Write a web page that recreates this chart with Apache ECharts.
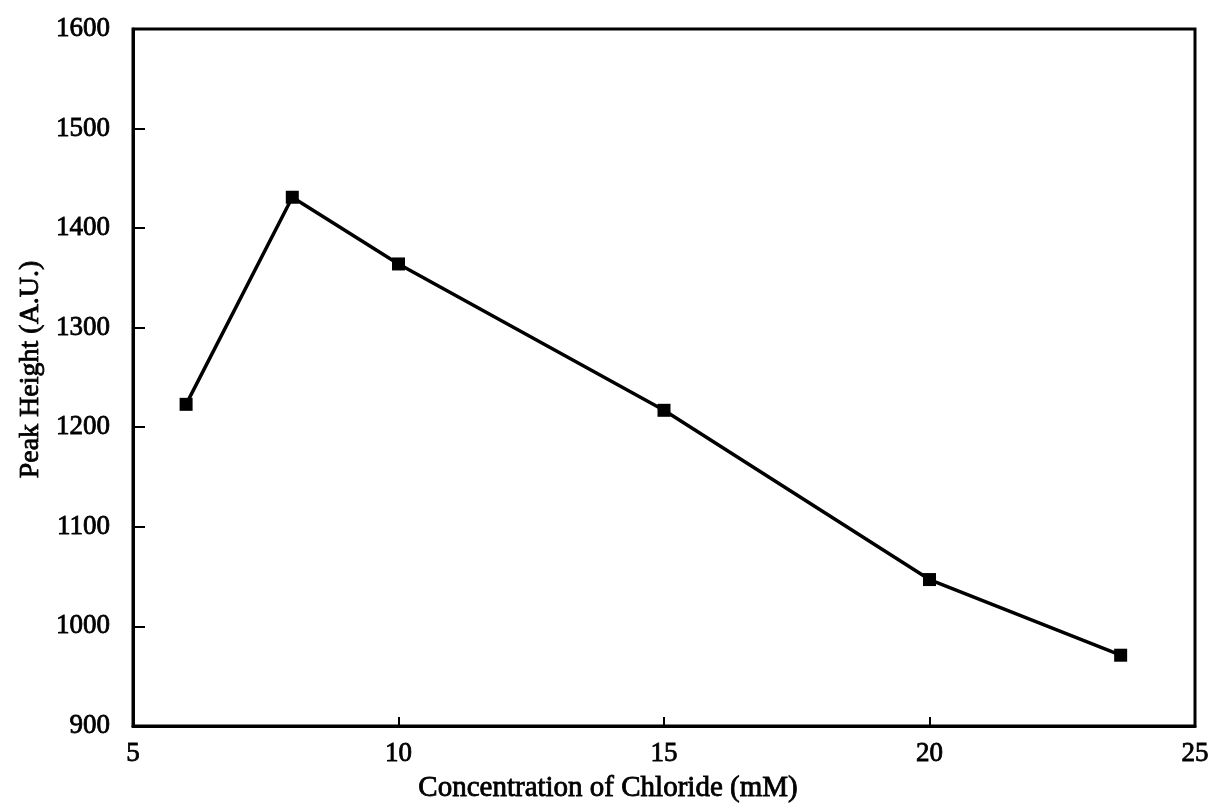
<!DOCTYPE html>
<html>
<head>
<meta charset="utf-8">
<script src="https://cdn.jsdelivr.net/npm/echarts@6/dist/echarts.min.js"></script>
<style>
  html, body { margin: 0; padding: 0; background: #fff; }
  #chart { width: 1215px; height: 808px; }
</style>
</head>
<body>
<div id="chart"></div>
<script>
// Chloride concentration (mM) and measured peak height (A.U.)
const chloride = [6, 8, 10, 15, 20, 23.6];
const peakHeight = [1223, 1431, 1364, 1217, 1047, 971];

const xTitle = 'Concentration of Chloride (mM)';
const yTitle = 'Peak Height (A.U.)';

const FONT = '"Liberation Serif", "Times New Roman", serif';
function textStyle(size) {
  return {
    color: '#000',
    fontFamily: FONT,
    fontSize: size,
    textBorderColor: '#000',
    textBorderWidth: 0.8
  };
}

const chart = echarts.init(document.getElementById('chart'), null, { renderer: 'canvas' });

chart.setOption({
  animation: false,
  backgroundColor: '#fff',
  grid: {
    left: 133, right: 20, top: 29, bottom: 81,
    show: true,
    borderColor: '#000',
    borderWidth: 3,
    backgroundColor: 'transparent'
  },
  xAxis: {
    type: 'value',
    min: 5, max: 25, interval: 5,
    name: xTitle,
    nameLocation: 'middle',
    nameGap: 45,
    nameTextStyle: Object.assign(textStyle(29), { padding: [0, 112, 0, 0] }),
    axisLine: { show: true, onZero: false, lineStyle: { color: '#000', width: 3 } },
    axisTick: { show: true, inside: true, length: 9, lineStyle: { color: '#000', width: 2 } },
    axisLabel: Object.assign({ margin: 15, formatter: v => String(v) }, textStyle(27)),
    splitLine: { show: false }
  },
  yAxis: {
    type: 'value',
    min: 900, max: 1600, interval: 100,
    name: yTitle,
    nameLocation: 'middle',
    nameGap: 82,
    nameRotate: 90,
    nameTextStyle: Object.assign(textStyle(28), { padding: [0, 0, 0, 16] }),
    axisLine: { show: true, onZero: false, lineStyle: { color: '#000', width: 3 } },
    axisTick: { show: true, inside: true, length: 12, lineStyle: { color: '#000', width: 2 } },
    axisLabel: Object.assign({ margin: 23, formatter: v => String(v) }, textStyle(27)),
    splitLine: { show: false }
  },
  series: [{
    type: 'line',
    data: chloride.map((c, i) => [c, peakHeight[i]]),
    symbol: 'rect',
    symbolSize: 13,
    itemStyle: { color: '#000' },
    lineStyle: { color: '#000', width: 3.5 },
    z: 5
  }]
});
</script>
</body>
</html>
